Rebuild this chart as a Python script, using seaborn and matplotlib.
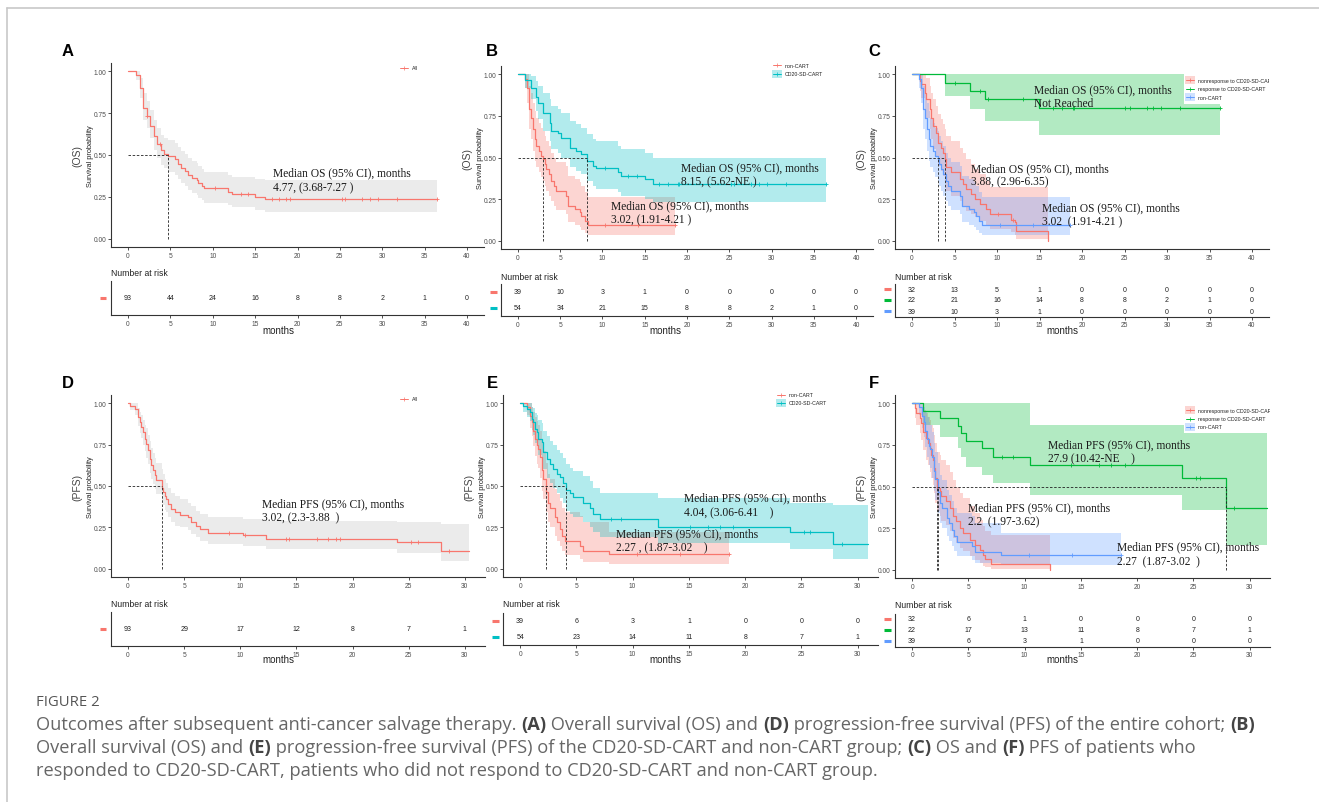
import numpy as np
import pandas as pd
import matplotlib
matplotlib.use("Agg")
import matplotlib.pyplot as plt
import seaborn as sns
from matplotlib.lines import Line2D
from matplotlib.patches import Rectangle

sns.set_theme(style="white")
plt.rcParams['font.family'] = ['Liberation Sans', 'DejaVu Sans']

# ---------------- data ----------------
RED, CYAN, GREEN, BLUE = "#F8766D", "#00BFC4", "#00BA38", "#619CFF"

os_ticks = [0, 5, 10, 15, 20, 25, 30, 35, 40]
pfs_ticks = [0, 5, 10, 15, 20, 25, 30]

# A: OS all
a_t = [0, 0.9, 1.38, 1.78, 2.25, 2.57, 3.08, 3.47, 3.95, 4.22, 4.77, 5.52, 5.92, 6.31, 6.71, 7.10, 7.50, 8.09, 8.29, 8.68, 8.96, 11.84, 12.23, 15.0, 16.18]
a_s = [1.0, 0.98, 0.90, 0.78, 0.735, 0.675, 0.615, 0.565, 0.527, 0.505, 0.495, 0.475, 0.445, 0.425, 0.405, 0.38, 0.365, 0.35, 0.335, 0.315, 0.30, 0.28, 0.268, 0.25, 0.235]
a_lo = [1.0, 0.95, 0.84, 0.71, 0.66, 0.60, 0.53, 0.48, 0.44, 0.42, 0.40, 0.38, 0.355, 0.335, 0.315, 0.29, 0.275, 0.26, 0.245, 0.23, 0.215, 0.20, 0.19, 0.17, 0.16]
a_hi = [1.0, 1.0, 0.96, 0.87, 0.82, 0.77, 0.71, 0.66, 0.62, 0.60, 0.59, 0.57, 0.545, 0.525, 0.505, 0.48, 0.465, 0.45, 0.435, 0.415, 0.40, 0.38, 0.37, 0.355, 0.35]
a_end = 36.4
a_cens = [2.3, 3.75, 10.3, 13.3, 14.2, 17.0, 17.8, 18.6, 19.1, 25.2, 25.6, 27.6, 28.5, 29.5, 31.7, 36.4]

# B: OS non-CART / CD20-SD-CART
b_non_t = [0, 0.79, 1.1, 1.3, 1.58, 1.78, 1.97, 2.17, 2.49, 2.76, 3.02, 3.16, 3.36, 3.67, 3.95, 4.22, 4.54, 5.65, 5.92, 6.71, 7.3, 7.5, 7.9, 8.29]
b_non_s = [1.0, 0.97, 0.915, 0.79, 0.735, 0.67, 0.61, 0.57, 0.54, 0.51, 0.49, 0.46, 0.43, 0.40, 0.36, 0.33, 0.30, 0.27, 0.21, 0.19, 0.17, 0.15, 0.12, 0.094]
b_non_lo = [1.0, 0.92, 0.83, 0.67, 0.61, 0.54, 0.48, 0.44, 0.41, 0.38, 0.36, 0.33, 0.30, 0.27, 0.24, 0.21, 0.185, 0.16, 0.11, 0.095, 0.08, 0.065, 0.045, 0.035]
b_non_hi = [1.0, 1.0, 1.0, 0.93, 0.89, 0.83, 0.78, 0.74, 0.71, 0.68, 0.66, 0.63, 0.60, 0.57, 0.53, 0.50, 0.47, 0.45, 0.39, 0.37, 0.35, 0.33, 0.29, 0.26]
b_non_end = 18.55
b_non_cens = [10.3, 14.2, 18.55]

b_cart_t = [0, 0.79, 1.58, 2.17, 2.37, 2.96, 3.75, 3.95, 4.74, 5.13, 6.12, 6.91, 7.5, 8.15, 8.88, 9.28, 11.84, 12.24, 15.0, 16.0]
b_cart_s = [1.0, 0.965, 0.915, 0.865, 0.825, 0.765, 0.71, 0.66, 0.645, 0.62, 0.56, 0.54, 0.52, 0.48, 0.45, 0.435, 0.41, 0.39, 0.37, 0.34]
b_cart_lo = [1.0, 0.92, 0.85, 0.78, 0.73, 0.66, 0.60, 0.55, 0.53, 0.50, 0.44, 0.42, 0.40, 0.36, 0.33, 0.31, 0.29, 0.27, 0.25, 0.23]
b_cart_hi = [1.0, 1.0, 0.99, 0.96, 0.93, 0.89, 0.85, 0.81, 0.79, 0.77, 0.72, 0.70, 0.68, 0.64, 0.61, 0.60, 0.57, 0.55, 0.53, 0.50]
b_cart_end = 36.4
b_cart_cens = [10.3, 13.0, 14.1, 16.7, 17.8, 18.9, 19.1, 25.2, 25.6, 27.6, 28.5, 29.5, 31.7, 36.4]

# C: OS responders / non-responders
c_resp_t = [0, 3.84, 6.86, 8.6, 14.94]
c_resp_s = [1.0, 0.95, 0.90, 0.85, 0.795]
c_resp_lo = [1.0, 0.87, 0.79, 0.72, 0.634]
c_resp_hi = [1.0, 1.0, 1.0, 1.0, 1.0]
c_resp_end = 36.2
c_resp_cens = [5.0, 7.96, 8.94, 13.05, 16.6, 17.7, 18.9, 19.1, 25.0, 25.6, 27.6, 28.4, 29.3, 31.5, 36.2]

c_nonresp_t = [0, 0.9, 1.1, 1.49, 1.69, 2.08, 2.27, 2.47, 2.86, 3.06, 3.45, 3.65, 3.88, 4.04, 4.63, 5.6, 6.0, 6.4, 6.98, 7.37, 7.96, 8.75, 9.14, 11.7, 12.1, 12.27, 16.0]
c_nonresp_s = [1, 0.96, 0.94, 0.89, 0.85, 0.79, 0.74, 0.69, 0.65, 0.59, 0.56, 0.53, 0.49, 0.44, 0.41, 0.37, 0.34, 0.31, 0.28, 0.25, 0.22, 0.19, 0.16, 0.125, 0.11, 0.06, 0.0]
c_nonresp_lo = [1, 0.90, 0.86, 0.79, 0.74, 0.67, 0.61, 0.55, 0.51, 0.45, 0.42, 0.39, 0.35, 0.30, 0.27, 0.24, 0.21, 0.18, 0.16, 0.14, 0.12, 0.09, 0.07, 0.05, 0.035, 0.012, 0.0]
c_nonresp_hi = [1, 1, 1, 1, 0.98, 0.93, 0.89, 0.85, 0.81, 0.76, 0.73, 0.70, 0.67, 0.63, 0.60, 0.56, 0.53, 0.49, 0.46, 0.43, 0.40, 0.36, 0.32, 0.32, 0.32, 0.32, 0.32]
c_nonresp_end = 16.0
c_nonresp_cens = [10.1, 11.9]

# D: PFS all
d_t = [0, 0.2, 0.6, 0.9, 1.04, 1.19, 1.33, 1.48, 1.63, 1.78, 1.93, 2.08, 2.22, 2.37, 2.52, 3.02, 3.11, 3.26, 3.41, 3.56, 3.86, 4.15, 4.6, 5.34, 5.63, 6.08, 6.38, 7.12, 10.2, 12.3, 24.0, 27.9]
d_s = [1, 0.985, 0.965, 0.915, 0.885, 0.855, 0.825, 0.785, 0.755, 0.715, 0.665, 0.625, 0.595, 0.565, 0.535, 0.49, 0.465, 0.44, 0.42, 0.39, 0.36, 0.34, 0.325, 0.31, 0.285, 0.26, 0.24, 0.217, 0.205, 0.18, 0.16, 0.105]
d_lo = [1, 0.96, 0.93, 0.86, 0.82, 0.79, 0.75, 0.71, 0.67, 0.63, 0.58, 0.54, 0.51, 0.48, 0.45, 0.41, 0.385, 0.355, 0.34, 0.31, 0.28, 0.26, 0.25, 0.235, 0.21, 0.19, 0.17, 0.15, 0.14, 0.12, 0.095, 0.045]
d_hi = [1, 1, 1, 0.97, 0.95, 0.93, 0.90, 0.87, 0.85, 0.81, 0.77, 0.73, 0.70, 0.67, 0.64, 0.60, 0.57, 0.54, 0.52, 0.49, 0.46, 0.44, 0.42, 0.40, 0.38, 0.35, 0.33, 0.31, 0.30, 0.29, 0.28, 0.27]
d_end = 30.4
d_cens = [9.0, 10.4, 14.1, 14.3, 16.8, 17.8, 18.5, 18.9, 25.2, 25.8, 28.6]

# E: PFS non-CART / CD20-SD-CART
e_non_t = [0, 0.59, 0.89, 1.04, 1.18, 1.33, 1.48, 1.63, 1.78, 1.92, 2.07, 2.27, 2.52, 2.67, 3.11, 3.26, 3.55, 3.7, 4.0, 5.33, 5.63, 7.94]
e_non_s = [1, 0.975, 0.925, 0.885, 0.835, 0.785, 0.745, 0.725, 0.675, 0.595, 0.545, 0.465, 0.40, 0.37, 0.31, 0.28, 0.24, 0.20, 0.165, 0.14, 0.107, 0.087]
e_non_lo = [1, 0.93, 0.85, 0.80, 0.74, 0.68, 0.63, 0.61, 0.55, 0.47, 0.42, 0.34, 0.28, 0.25, 0.20, 0.17, 0.14, 0.11, 0.08, 0.06, 0.04, 0.028]
e_non_hi = [1, 1, 1, 0.98, 0.95, 0.92, 0.89, 0.87, 0.83, 0.76, 0.71, 0.64, 0.57, 0.54, 0.48, 0.45, 0.41, 0.37, 0.34, 0.32, 0.28, 0.22]
e_non_end = 18.6
e_non_cens = [10.4, 14.2, 18.6]

e_cart_t = [0, 0.3, 0.59, 0.89, 1.04, 1.18, 1.33, 1.48, 1.63, 1.92, 2.07, 2.37, 2.67, 2.96, 3.26, 3.55, 3.85, 4.04, 4.44, 4.74, 5.63, 6.22, 6.51, 7.1, 12.29, 24.0, 27.8]
e_cart_s = [1, 0.985, 0.965, 0.945, 0.905, 0.885, 0.845, 0.825, 0.785, 0.765, 0.705, 0.665, 0.635, 0.605, 0.575, 0.555, 0.52, 0.475, 0.455, 0.435, 0.40, 0.37, 0.33, 0.30, 0.255, 0.22, 0.15]
e_cart_lo = [1, 0.95, 0.92, 0.89, 0.84, 0.81, 0.76, 0.74, 0.69, 0.67, 0.60, 0.55, 0.52, 0.49, 0.46, 0.43, 0.40, 0.35, 0.33, 0.31, 0.28, 0.25, 0.22, 0.19, 0.155, 0.12, 0.06]
e_cart_hi = [1, 1, 1, 1, 0.98, 0.97, 0.94, 0.93, 0.90, 0.88, 0.83, 0.80, 0.77, 0.75, 0.72, 0.70, 0.67, 0.63, 0.61, 0.59, 0.56, 0.53, 0.49, 0.46, 0.43, 0.40, 0.385]
e_cart_end = 30.9
e_cart_cens = [8.1, 9.0, 15.1, 16.7, 17.8, 18.9, 25.2, 25.8, 28.6]

# F: PFS responders / non-responders
f_resp_t = [0, 0.98, 2.52, 4.09, 4.3, 4.77, 6.19, 7.2, 10.45, 24.0, 27.9]
f_resp_s = [1, 0.955, 0.91, 0.865, 0.82, 0.775, 0.73, 0.68, 0.63, 0.55, 0.37]
f_resp_lo = [1, 0.87, 0.80, 0.73, 0.68, 0.62, 0.57, 0.52, 0.45, 0.36, 0.15]
f_resp_hi = [1, 1, 1, 1, 1, 1, 1, 1, 0.87, 0.87, 0.82]
f_resp_end = 31.5
f_resp_cens = [7.96, 8.94, 14.1, 16.6, 17.7, 18.9, 25.2, 25.6, 28.6]

f_nonresp_t = [0, 0.24, 0.38, 0.68, 0.83, 0.98, 1.27, 1.42, 1.57, 1.72, 1.87, 1.95, 2.07, 2.2, 2.46, 2.6, 3.05, 3.34, 3.64, 3.94, 4.23, 4.53, 5.12, 5.57, 6.01, 6.31, 6.46, 7.05, 12.29]
f_nonresp_s = [1, 0.97, 0.94, 0.91, 0.88, 0.83, 0.79, 0.76, 0.73, 0.69, 0.66, 0.61, 0.55, 0.49, 0.47, 0.44, 0.41, 0.37, 0.32, 0.29, 0.25, 0.22, 0.18, 0.15, 0.12, 0.09, 0.066, 0.036, 0.0]
f_nonresp_lo = [1, 0.91, 0.87, 0.82, 0.78, 0.72, 0.66, 0.63, 0.59, 0.55, 0.51, 0.46, 0.40, 0.35, 0.32, 0.29, 0.27, 0.23, 0.19, 0.16, 0.13, 0.11, 0.08, 0.06, 0.04, 0.025, 0.015, 0.005, 0]
f_nonresp_hi = [1, 1, 1, 1, 1, 0.96, 0.94, 0.92, 0.90, 0.87, 0.85, 0.81, 0.76, 0.71, 0.69, 0.66, 0.63, 0.59, 0.54, 0.50, 0.46, 0.43, 0.38, 0.34, 0.30, 0.26, 0.23, 0.21, 0.21]
f_nonresp_end = 12.29
f_nonresp_cens = []

# numbers at risk
risk_a = [93, 44, 24, 16, 8, 8, 2, 1, 0]
risk_b_non = [39, 10, 3, 1, 0, 0, 0, 0, 0]
risk_b_cart = [54, 34, 21, 15, 8, 8, 2, 1, 0]
risk_c_nonresp = [32, 13, 5, 1, 0, 0, 0, 0, 0]
risk_c_resp = [22, 21, 16, 14, 8, 8, 2, 1, 0]
risk_c_non = [39, 10, 3, 1, 0, 0, 0, 0, 0]
risk_d = [93, 29, 17, 12, 8, 7, 1]
risk_e_non = [39, 6, 3, 1, 0, 0, 0]
risk_e_cart = [54, 23, 14, 11, 8, 7, 1]
risk_f_nonresp = [32, 6, 1, 0, 0, 0, 0]
risk_f_resp = [22, 17, 13, 11, 8, 7, 1]
risk_f_non = [39, 6, 3, 1, 0, 0, 0]

medians = {
    "A": (4.77, [4.77]), "B": (8.15, [3.02, 8.15]), "C": (3.88, [3.02, 3.88]),
    "D": (3.02, [3.02]), "E": (4.04, [2.27, 4.04]), "F": (27.9, [2.2, 2.27, 27.9]),
}

# ---------------- figure ----------------
W, H = 1319, 803
fig = plt.figure(figsize=(W / 100, H / 100), dpi=100)
fig.patch.set_facecolor("white")


def fx(x):
    return x / W


def fy(y):
    return 1 - y / H


def px_axes(l, t, r, b):
    return fig.add_axes([l / W, 1 - b / H, (r - l) / W, (b - t) / H])


def style(ax):
    for sp in ["top", "right"]:
        ax.spines[sp].set_visible(False)
    for sp in ["left", "bottom"]:
        ax.spines[sp].set_color("#333333")
        ax.spines[sp].set_linewidth(0.8)
    ax.tick_params(length=2, width=0.6, color="#333333", labelsize=4.8,
                   labelcolor="#4d4d4d", pad=1.5, left=True, bottom=True)
    ax.set_xlabel("")
    ax.set_ylabel("")
    ax.set_facecolor("none")
    ax.grid(False)


def step_at(t, s, x):
    i = np.searchsorted(np.asarray(t), x, side="right") - 1
    return np.asarray(s)[i]


def km_panel(box, xlim, ticks, curves, med, ylab):
    ax = px_axes(*box)
    for c in curves:
        tt = list(c["t"]) + [c["end"]]
        lo = list(c["lo"]) + [c["lo"][-1]]
        hi = list(c["hi"]) + [c["hi"][-1]]
        ax.fill_between(tt, lo, hi, step="post", color=c["fill"], alpha=0.3, lw=0)
    for c in curves:
        tt = list(c["t"]) + [c["end"]]
        ss = list(c["s"]) + [c["s"][-1]]
        df = pd.DataFrame({"time": tt, "surv": ss})
        sns.lineplot(data=df, x="time", y="surv", ax=ax, color=c["color"],
                     drawstyle="steps-post", estimator=None, sort=False,
                     linewidth=0.9, legend=False)
        if len(c["cens"]):
            cy = [step_at(c["t"], c["s"], x) for x in c["cens"]]
            ax.plot(c["cens"], cy, ls="none", marker="+", ms=3.5, mew=0.6,
                    color=c["color"])
    hend, verts = med
    ax.plot([0, hend], [0.5, 0.5], ls=(0, (3, 2)), color="#222222", lw=0.6)
    for v in verts:
        ax.plot([v, v], [0, 0.5], ls=(0, (3, 2)), color="#222222", lw=0.6)
    ax.set_xlim(*xlim)
    ax.set_ylim(-0.05, 1.05)
    ax.set_xticks(ticks)
    ax.set_yticks([0, 0.25, 0.5, 0.75, 1.0])
    ax.set_yticklabels(["0.00", "0.25", "0.50", "0.75", "1.00"])
    style(ax)
    l, t, r, b = box
    yc = (t + b) / 2
    fig.text(fx(l - 34), fy(yc), ylab, rotation=90, ha="center", va="center",
             fontsize=7.5, color="#444444")
    fig.text(fx(l - 21), fy(yc), "Survival probability", rotation=90,
             ha="center", va="center", fontsize=5.3, color="#222222")
    return ax


def risk_panel(box, xlim, ticks, rows, colors, title_y, label_x, label_y):
    ax = px_axes(*box)
    n = len(rows)
    ax.set_xlim(*xlim)
    ax.set_ylim(n + 0.5, 0.5)
    for i, (vals, col) in enumerate(zip(rows, colors)):
        for x, v in zip(ticks, vals):
            ax.text(x, i + 1, str(v), ha="center", va="center", fontsize=5,
                    color="#222222")
    ax.set_xticks(ticks)
    ax.set_yticks([])
    style(ax)
    ax.tick_params(left=False)
    l, t, r, b = box
    for i, col in enumerate(colors):
        yy = t + (b - t) * (i + 0.5) / n
        fig.add_artist(Line2D([fx(l - 11.5), fx(l - 4.5)], [fy(yy), fy(yy)],
                              color=col, lw=2.2, solid_capstyle="butt"))
    fig.text(fx(l), fy(title_y), "Number at risk", ha="left", va="center",
             fontsize=6.2, color="#222222")
    fig.text(fx(label_x), fy(label_y), "months", ha="center", va="center",
             fontsize=7, color="#222222")
    return ax


def legend(ax, x_key, ys, labels, colors, fills, bg=None, clip=False):
    if bg is not None:
        x0, y0, x1, y1 = bg
        ax.add_artist(Rectangle((fx(x0), fy(y1)), fx(x1) - fx(x0), fy(y0) - fy(y1),
                                transform=fig.transFigure, facecolor="white",
                                edgecolor="none", zorder=5, clip_on=True))
    for y, lab, c, f in zip(ys, labels, colors, fills):
        if f:
            ax.add_artist(Rectangle((fx(x_key - 1), fy(y + 4)), 10 / W, 8 / H,
                                    transform=fig.transFigure, facecolor=c,
                                    alpha=0.3, edgecolor="none", zorder=6,
                                    clip_on=False))
        ax.add_artist(Line2D([fx(x_key), fx(x_key + 8)], [fy(y), fy(y)], color=c,
                             lw=0.7, transform=fig.transFigure, zorder=7,
                             clip_on=False))
        ax.add_artist(Line2D([fx(x_key + 4)], [fy(y)], marker="+", ms=3, mew=0.5,
                             color=c, transform=fig.transFigure, zorder=7,
                             clip_on=False))
        ax.text(fx(x_key + 12), fy(y), lab, transform=fig.transFigure,
                ha="left", va="center", fontsize=3.8, color="#222222",
                clip_on=clip, zorder=7)


def C(t, s, lo, hi, end, cens, color, fill=None):
    return dict(t=t, s=s, lo=lo, hi=hi, end=end, cens=cens, color=color,
                fill=fill if fill else color)


serif = ["Liberation Serif", "DejaVu Serif"]


def note(x, y1, y2, l1, l2):
    fig.text(fx(x), fy(y1), l1, ha="left", va="center", fontsize=8.3,
             family=serif, color="#1a1a1a")
    fig.text(fx(x), fy(y2), l2, ha="left", va="center", fontsize=8.3,
             family=serif, color="#1a1a1a")


os_xlim = (-2, 42)
pfs_xlim = (-1.52, 31.8)

# ---- Panel A ----
axA = km_panel((111, 64, 484, 248), os_xlim, os_ticks,
               [C(a_t, a_s, a_lo, a_hi, a_end, a_cens, RED, "#bebebe")],
               medians["A"], "(OS)")
legend(axA, 400, [69], ["All"], [RED], [False])
note(273, 173, 188, "Median OS (95% CI), months", "4.77, (3.68-7.27 )")
risk_panel((111, 282, 484, 316), os_xlim, os_ticks, [risk_a], [RED], 274, 278, 331)

# ---- Panel B ----
axB = km_panel((501, 67, 873, 250), os_xlim, os_ticks,
               [C(b_non_t, b_non_s, b_non_lo, b_non_hi, b_non_end, b_non_cens, RED),
                C(b_cart_t, b_cart_s, b_cart_lo, b_cart_hi, b_cart_end, b_cart_cens, CYAN)],
               medians["B"], "(OS)")
legend(axB, 773, [66, 75], ["non-CART", "CD20-SD-CART"], [RED, CYAN], [False, True])
note(681, 168, 182, "Median OS (95% CI), months", "8.15, (5.62-NE )")
note(611, 206, 220, "Median OS (95% CI), months", "3.02, (1.91-4.21 )")
risk_panel((501, 285, 873, 317), os_xlim, os_ticks, [risk_b_non, risk_b_cart],
           [RED, CYAN], 277, 665, 331)

# ---- Panel C ----
axC = km_panel((895, 67, 1269, 250), os_xlim, os_ticks,
               [C(c_nonresp_t, c_nonresp_s, c_nonresp_lo, c_nonresp_hi, c_nonresp_end, c_nonresp_cens, RED),
                C(c_resp_t, c_resp_s, c_resp_lo, c_resp_hi, c_resp_end, c_resp_cens, GREEN),
                C(b_non_t, b_non_s, b_non_lo, b_non_hi, b_non_end, b_non_cens, BLUE)],
               medians["C"], "(OS)")
legend(axC, 1186, [81, 89.5, 98],
       ["nonresponse to CD20-SD-CART", "response to CD20-SD-CART", "non-CART"],
       [RED, GREEN, BLUE], [True, False, True], bg=(1184, 74, 1270, 105), clip=True)
note(1034, 90, 104, "Median OS (95% CI), months", "Not Reached")
note(971, 169, 182, "Median OS (95% CI), months", "3.88, (2.96-6.35)")
note(1042, 208, 222, "Median OS (95% CI), months", "3.02  (1.91-4.21 )")
risk_panel((895, 284.5, 1269, 317.5), os_xlim, os_ticks,
           [risk_c_nonresp, risk_c_resp, risk_c_non], [RED, GREEN, BLUE], 277, 1062, 331)

# ---- Panel D ----
axD = km_panel((111, 396, 485, 578), pfs_xlim, pfs_ticks,
               [C(d_t, d_s, d_lo, d_hi, d_end, d_cens, RED, "#bebebe")],
               medians["D"], "(PFS)")
legend(axD, 400, [400], ["All"], [RED], [False])
note(262, 504, 518, "Median PFS (95% CI), months", "3.02, (2.3-3.88  )")
risk_panel((111, 613, 485, 647), pfs_xlim, pfs_ticks, [risk_d], [RED], 605, 278, 660)

# ---- Panel E ----
axE = km_panel((503, 396, 878, 578), pfs_xlim, pfs_ticks,
               [C(e_non_t, e_non_s, e_non_lo, e_non_hi, e_non_end, e_non_cens, RED),
                C(e_cart_t, e_cart_s, e_cart_lo, e_cart_hi, e_cart_end, e_cart_cens, CYAN)],
               medians["E"], "(PFS)")
legend(axE, 777, [396, 404], ["non-CART", "CD20-SD-CART"], [RED, CYAN], [False, True])
note(684, 498, 513, "Median PFS (95% CI), months", "4.04, (3.06-6.41    )")
note(616, 534, 548, "Median PFS (95% CI), months", "2.27 , (1.87-3.02    )")
risk_panel((503, 614, 878, 646), pfs_xlim, pfs_ticks, [risk_e_non, risk_e_cart],
           [RED, CYAN], 605, 665, 660)

# ---- Panel F ----
axF = km_panel((895, 396, 1270, 579), pfs_xlim, pfs_ticks,
               [C(f_nonresp_t, f_nonresp_s, f_nonresp_lo, f_nonresp_hi, f_nonresp_end, f_nonresp_cens, RED),
                C(f_resp_t, f_resp_s, f_resp_lo, f_resp_hi, f_resp_end, f_resp_cens, GREEN),
                C(e_non_t, e_non_s, e_non_lo, e_non_hi, e_non_end, e_non_cens, BLUE)],
               medians["F"], "(PFS)")
legend(axF, 1186, [411, 419.5, 428],
       ["nonresponse to CD20-SD-CART", "response to CD20-SD-CART", "non-CART"],
       [RED, GREEN, BLUE], [True, False, True], bg=(1184, 404, 1271, 434), clip=True)
note(1048, 445, 459, "Median PFS (95% CI), months", "27.9 (10.42-NE    )")
note(968, 508, 522, "Median PFS (95% CI), months", "2.2  (1.97-3.62)")
note(1117, 547, 562, "Median PFS (95% CI), months", "2.27  (1.87-3.02  )")
risk_panel((895, 614.5, 1270, 647.5), pfs_xlim, pfs_ticks,
           [risk_f_nonresp, risk_f_resp, risk_f_non], [RED, GREEN, BLUE], 606, 1062, 660)

# ---- panel letters ----
for lab, x, y in [("A", 68, 52), ("B", 492, 52), ("C", 874, 52),
                  ("D", 68, 384), ("E", 492, 384), ("F", 874, 384)]:
    fig.text(fx(x), fy(y), lab, ha="center", va="center", fontsize=12,
             fontweight="bold", color="black")

# ---- frame lines ----
fig.add_artist(Line2D([fx(6.5), 1], [fy(9), fy(9)], color="#c8c8c8", lw=1.2))
fig.add_artist(Line2D([fx(6.5), fx(6.5)], [fy(9), 0], color="#c8c8c8", lw=1.2))

# ---- caption ----
cap_font = ["Open Sans", "DejaVu Sans"]
cap_color = "#666666"
caption_lines = [
    [("Outcomes after subsequent anti-cancer salvage therapy. ", False), ("(A)", True),
     (" Overall survival (OS) and ", False), ("(D)", True),
     (" progression-free survival (PFS) of the entire cohort; ", False), ("(B)", True)],
    [("Overall survival (OS) and ", False), ("(E)", True),
     (" progression-free survival (PFS) of the CD20-SD-CART and non-CART group; ", False),
     ("(C)", True), (" OS and ", False), ("(F)", True), (" PFS of patients who", False)],
    [("responded to CD20-SD-CART, patients who did not respond to CD20-SD-CART and non-CART group.", False)],
]

renderer = fig.canvas.get_renderer()


def run_width(txt, bold, size):
    t1 = fig.text(0, 0, txt + "|", fontsize=size, family=cap_font,
                  fontweight="bold" if bold else "normal")
    t2 = fig.text(0, 0, "|", fontsize=size, family=cap_font,
                  fontweight="bold" if bold else "normal")
    w = t1.get_window_extent(renderer).width - t2.get_window_extent(renderer).width
    t1.remove()
    t2.remove()
    return w


w10 = sum(run_width(t, b, 10) for t, b in caption_lines[0])
cap_size = 10 * 1215 / w10

fig.text(fx(36), fy(702), "FIGURE 2", ha="left", va="center", fontsize=cap_size * 0.82,
         family=cap_font, color="#555555")
for li, (line, y) in enumerate(zip(caption_lines, [725, 748, 771])):
    x = 36
    for txt, bold in line:
        fig.text(fx(x), fy(y), txt, ha="left", va="center", fontsize=cap_size,
                 family=cap_font, fontweight="bold" if bold else "normal",
                 color="#444444" if bold else cap_color)
        x += run_width(txt, bold, cap_size)

fig.savefig("out.png", dpi=100, facecolor="white")
